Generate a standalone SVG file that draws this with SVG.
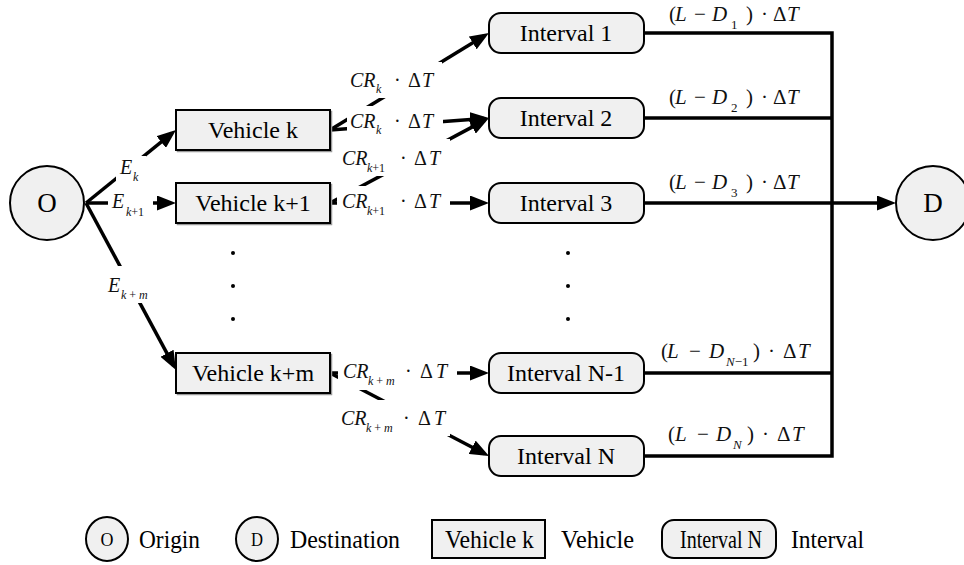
<svg xmlns="http://www.w3.org/2000/svg" width="964" height="565" viewBox="0 0 964 565" font-family="'Liberation Serif', 'Times New Roman', serif">
  <style>
    text { font-family: 'Liberation Serif', 'Times New Roman', serif; }
    .node { fill: #f0f0f0; stroke: #000; stroke-width: 2; }
    .shadow { fill: none; stroke: #999; stroke-width: 1.5; }
    .lbl { fill: #000; }
    .ntxt { font-size: 24px; text-anchor: middle; fill: #000; }
    .ctxt { font-size: 27px; text-anchor: middle; fill: #000; }
    .edge { fill: none; stroke: #000; stroke-width: 3.5; }
    .bus { fill: none; stroke: #000; stroke-width: 3.5; stroke-linejoin: miter; }
    .bg { fill: #fff; }
    .m { font-size: 20px; fill: #111; }
    .r { font-size: 21px; fill: #111; }
    .i { font-style: italic; }
    .s { font-size: 12px; }
    .s2 { font-size: 13px; }
    .dot { fill: #000; }
    .leg { font-size: 26px; fill: #000; }
  </style>
  <defs>
    <marker id="arrow" viewBox="0 0 19 15" markerWidth="19" markerHeight="15" refX="14" refY="7.5" orient="auto" markerUnits="userSpaceOnUse">
      <path d="M0,0 L19,7.5 L0,15 z" fill="#000"/>
    </marker>
  </defs>

  <!-- connectors -->
  <g id="connectors">
    <line class="edge" x1="86" y1="203" x2="172.1" y2="133.2" marker-end="url(#arrow)"/>
    <line class="edge" x1="86" y1="203" x2="171" y2="203" marker-end="url(#arrow)"/>
    <line class="edge" x1="86" y1="203" x2="173.6" y2="365.6" marker-end="url(#arrow)"/>
    <line class="edge" x1="330" y1="130" x2="484.7" y2="35.6" marker-end="url(#arrow)"/>
    <line class="edge" x1="330" y1="130" x2="484.0" y2="118.4" marker-end="url(#arrow)"/>
    <line class="edge" x1="330" y1="203" x2="484.6" y2="120.4" marker-end="url(#arrow)"/>
    <line class="edge" x1="330" y1="203" x2="484" y2="203" marker-end="url(#arrow)"/>
    <line class="edge" x1="330" y1="373" x2="484" y2="373" marker-end="url(#arrow)"/>
    <line class="edge" x1="330" y1="373" x2="484.6" y2="453.7" marker-end="url(#arrow)"/>
    <path class="bus" d="M643,33 H832 V456 H644"/>
    <path class="bus" d="M643,118 H832"/>
    <path class="bus" d="M644,373 H832"/>
    <line class="edge" x1="644" y1="203" x2="891" y2="203" marker-end="url(#arrow)"/>
  </g>

  <!-- edge labels -->
  <g id="edge-labels">
    <rect class="bg" x="116" y="156" width="30" height="28"/>
    <text class="m"><tspan class="i" x="120" y="174">E</tspan><tspan class="i s" x="133" y="181">k</tspan></text>

    <rect class="bg" x="108" y="190" width="45" height="30"/>
    <text class="m"><tspan class="i" x="112" y="208">E</tspan><tspan class="i s" x="126" y="216">k</tspan><tspan class="s">+1</tspan></text>

    <rect class="bg" x="104" y="266" width="48" height="37"/>
    <text class="m"><tspan class="i" x="108" y="292">E</tspan><tspan class="i s" x="121" y="299">k</tspan><tspan class="s"> + </tspan><tspan class="i s">m</tspan></text>

    <rect class="bg" x="345" y="62" width="97" height="36"/>
    <text class="m"><tspan class="i" x="350" y="87">CR</tspan><tspan class="i s" x="376" y="93">k</tspan><tspan x="394" y="87">·</tspan><tspan x="408">Δ</tspan><tspan class="i" x="422">T</tspan></text>

    <rect class="bg" x="347" y="106" width="96" height="30"/>
    <text class="m"><tspan class="i" x="350" y="128">CR</tspan><tspan class="i s" x="376" y="134">k</tspan><tspan x="394" y="128">·</tspan><tspan x="408">Δ</tspan><tspan class="i" x="422">T</tspan></text>

    <rect class="bg" x="338" y="139" width="112" height="37"/>
    <text class="m"><tspan class="i" x="342" y="165">CR</tspan><tspan class="i s" x="367" y="172">k</tspan><tspan class="s">+1</tspan><tspan x="400" y="165">·</tspan><tspan x="414">Δ</tspan><tspan class="i" x="429">T</tspan></text>

    <rect class="bg" x="337" y="186" width="113" height="30"/>
    <text class="m"><tspan class="i" x="342" y="208">CR</tspan><tspan class="i s" x="367" y="215">k</tspan><tspan class="s">+1</tspan><tspan x="400" y="208">·</tspan><tspan x="414">Δ</tspan><tspan class="i" x="429">T</tspan></text>

    <rect class="bg" x="338" y="358" width="119" height="32"/>
    <text class="m"><tspan class="i" x="343" y="378">CR</tspan><tspan class="i s" x="368" y="385">k</tspan><tspan class="s"> + </tspan><tspan class="i s">m</tspan><tspan x="405" y="378">·</tspan><tspan x="420">Δ</tspan><tspan class="i" x="436">T</tspan></text>

    <rect class="bg" x="337" y="400" width="113" height="36"/>
    <text class="m"><tspan class="i" x="341" y="425">CR</tspan><tspan class="i s" x="366" y="432">k</tspan><tspan class="s"> + </tspan><tspan class="i s">m</tspan><tspan x="403" y="425">·</tspan><tspan x="418">Δ</tspan><tspan class="i" x="434">T</tspan></text>

    <text class="r"><tspan x="669" y="21">(</tspan><tspan class="i" x="675">L</tspan><tspan x="694">−</tspan><tspan class="i" x="712">D</tspan><tspan class="s2" x="731" y="29">1</tspan><tspan x="746" y="21">)</tspan><tspan x="761">·</tspan><tspan x="773">Δ</tspan><tspan class="i" x="787">T</tspan></text>
    <text class="r"><tspan x="669" y="104">(</tspan><tspan class="i" x="675">L</tspan><tspan x="694">−</tspan><tspan class="i" x="712">D</tspan><tspan class="s2" x="731" y="112">2</tspan><tspan x="746" y="104">)</tspan><tspan x="761">·</tspan><tspan x="773">Δ</tspan><tspan class="i" x="787">T</tspan></text>
    <text class="r"><tspan x="669" y="189">(</tspan><tspan class="i" x="675">L</tspan><tspan x="694">−</tspan><tspan class="i" x="712">D</tspan><tspan class="s2" x="731" y="197">3</tspan><tspan x="746" y="189">)</tspan><tspan x="761">·</tspan><tspan x="773">Δ</tspan><tspan class="i" x="787">T</tspan></text>
    <text class="r"><tspan x="661" y="358">(</tspan><tspan class="i" x="667">L</tspan><tspan x="689">−</tspan><tspan class="i" x="709">D</tspan><tspan class="i s2" x="726" y="366">N</tspan><tspan class="s2">−1</tspan><tspan x="753" y="358">)</tspan><tspan x="768">·</tspan><tspan x="783">Δ</tspan><tspan class="i" x="798">T</tspan></text>
    <text class="r"><tspan x="668" y="441">(</tspan><tspan class="i" x="675">L</tspan><tspan x="697">−</tspan><tspan class="i" x="716">D</tspan><tspan class="i s2" x="733" y="449">N</tspan><tspan x="747" y="441">)</tspan><tspan x="762">·</tspan><tspan x="777">Δ</tspan><tspan class="i" x="792">T</tspan></text>
  </g>

  <!-- origin and destination -->
  <g id="origin">
    <circle class="node" cx="47" cy="203" r="37"/>
    <text class="ctxt" x="47" y="212">O</text>
  </g>
  <g id="destination">
    <circle class="node" cx="933" cy="203" r="37"/>
    <text class="ctxt" x="933" y="212">D</text>
  </g>

  <!-- vehicles -->
  <g id="vehicle-k">
    <rect class="shadow" x="177.5" y="111.5" width="154" height="40"/>
    <rect class="node" x="176" y="110" width="154" height="40"/>
    <text class="ntxt" x="253" y="138">Vehicle k</text>
  </g>
  <g id="vehicle-k1">
    <rect class="shadow" x="177.5" y="184.5" width="154" height="40"/>
    <rect class="node" x="176" y="183" width="154" height="40"/>
    <text class="ntxt" x="253" y="211">Vehicle k+1</text>
  </g>
  <g id="vehicle-km">
    <rect class="shadow" x="177.5" y="354.5" width="154" height="40"/>
    <rect class="node" x="176" y="353" width="154" height="40"/>
    <text class="ntxt" x="253" y="381">Vehicle k+m</text>
  </g>

  <!-- intervals -->
  <g id="interval-1">
    <rect class="node" x="489" y="13" width="155" height="40" rx="12"/>
    <text class="ntxt" x="566" y="41">Interval 1</text>
  </g>
  <g id="interval-2">
    <rect class="node" x="489" y="98" width="155" height="40" rx="12"/>
    <text class="ntxt" x="566" y="126">Interval 2</text>
  </g>
  <g id="interval-3">
    <rect class="node" x="489" y="183" width="155" height="40" rx="12"/>
    <text class="ntxt" x="566" y="211">Interval 3</text>
  </g>
  <g id="interval-n1">
    <rect class="node" x="489" y="353" width="155" height="40" rx="12"/>
    <text class="ntxt" x="566" y="381">Interval N-1</text>
  </g>
  <g id="interval-n">
    <rect class="node" x="489" y="436" width="155" height="40" rx="12"/>
    <text class="ntxt" x="566" y="464">Interval N</text>
  </g>

  <!-- ellipsis dots -->
  <g id="ellipsis">
    <circle class="dot" cx="233" cy="253" r="2"/>
    <circle class="dot" cx="233" cy="286" r="2"/>
    <circle class="dot" cx="233" cy="319" r="2"/>
    <circle class="dot" cx="568" cy="253" r="2"/>
    <circle class="dot" cx="568" cy="286" r="2"/>
    <circle class="dot" cx="568" cy="319" r="2"/>
  </g>

  <!-- legend -->
  <g id="legend">
    <ellipse class="node" cx="107" cy="539" rx="21" ry="22"/>
    <text class="lbl" x="107" y="546" font-size="19" text-anchor="middle" textLength="13" lengthAdjust="spacingAndGlyphs">O</text>
    <text class="leg" x="139" y="548" textLength="61" lengthAdjust="spacingAndGlyphs">Origin</text>
    <ellipse class="node" cx="257" cy="539" rx="21" ry="22"/>
    <text class="lbl" x="257" y="546" font-size="19" text-anchor="middle" textLength="12" lengthAdjust="spacingAndGlyphs">D</text>
    <text class="leg" x="290" y="548" textLength="110" lengthAdjust="spacingAndGlyphs">Destination</text>
    <rect class="node" x="432" y="520" width="113" height="38"/>
    <text class="leg" x="445" y="548" textLength="89" lengthAdjust="spacingAndGlyphs">Vehicle k</text>
    <text class="leg" x="561" y="548" textLength="73" lengthAdjust="spacingAndGlyphs">Vehicle</text>
    <rect class="node" x="662" y="520" width="114" height="38" rx="12"/>
    <text class="leg" x="680" y="548" textLength="82" lengthAdjust="spacingAndGlyphs">Interval N</text>
    <text class="leg" x="791" y="548" textLength="73" lengthAdjust="spacingAndGlyphs">Interval</text>
  </g>
</svg>
